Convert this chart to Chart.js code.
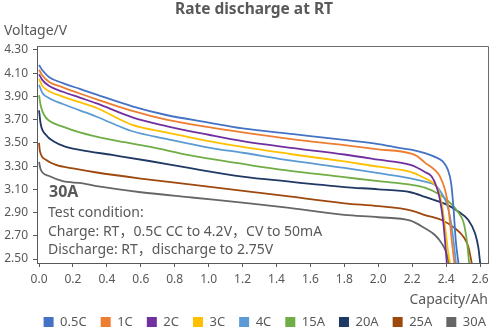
<!DOCTYPE html>
<html><head><meta charset="utf-8">
<script src="https://cdn.jsdelivr.net/npm/chart.js@4/dist/chart.umd.min.js"></script>
<style>html,body{margin:0;padding:0;background:#fff}</style>
</head><body>
<canvas id="c" width="500" height="333"></canvas>
<script>
// ---- data (capacity in Ah, voltage in V) ----
const seriesNames = ['0.5C','1C','2C','3C','4C','15A','20A','25A','30A'];
const seriesColors = ['#4472C4','#ED7D31','#7030A0','#FFC000','#5B9BD5','#70AD47','#203864','#9E480E','#666666'];

const cap05C = [0,0.02,0.06,0.14,0.24,0.34,0.55,0.75,1.0,1.2,1.5,1.8,2.0,2.13,2.2,2.28,2.34,2.38,2.41,2.43,2.443,2.457,2.474];
const v05C   = [4.17,4.125,4.065,4.015,3.965,3.915,3.815,3.74,3.675,3.625,3.575,3.525,3.49,3.455,3.44,3.41,3.375,3.34,3.27,3.15,2.95,2.66,2.45];

const cap1C = [0,0.02,0.06,0.14,0.24,0.34,0.55,0.75,1.0,1.2,1.5,1.8,2.0,2.19,2.23,2.275,2.334,2.364,2.394,2.413,2.433,2.45];
const v1C   = [4.13,4.08,4.025,3.978,3.925,3.875,3.775,3.70,3.635,3.59,3.53,3.48,3.445,3.41,3.385,3.33,3.266,3.21,3.094,2.95,2.664,2.45];

const cap2C = [0,0.02,0.06,0.14,0.24,0.34,0.55,0.75,1.0,1.2,1.5,1.8,2.0,2.19,2.275,2.315,2.344,2.364,2.384,2.398,2.405];
const v2C   = [4.09,4.04,3.99,3.94,3.89,3.84,3.72,3.645,3.57,3.515,3.455,3.40,3.355,3.31,3.25,3.21,3.12,3.01,2.81,2.58,2.45];

const cap3C = [0,0.02,0.06,0.14,0.24,0.34,0.55,0.75,1.0,1.2,1.5,1.8,2.0,2.19,2.275,2.325,2.354,2.374,2.394,2.413,2.425];
const v3C   = [4.05,3.99,3.945,3.898,3.85,3.80,3.655,3.59,3.515,3.465,3.40,3.34,3.295,3.25,3.195,3.152,3.094,2.98,2.778,2.55,2.45];

const cap4C = [0,0.02,0.06,0.14,0.24,0.34,0.55,0.75,1.0,1.2,1.5,1.8,2.0,2.19,2.275,2.334,2.374,2.403,2.423,2.443,2.459];
const v4C   = [4.00,3.93,3.885,3.835,3.78,3.725,3.60,3.535,3.46,3.415,3.345,3.285,3.24,3.195,3.166,3.137,3.066,2.98,2.864,2.664,2.45];

const cap15A = [0,0.01,0.03,0.06,0.14,0.24,0.43,0.65,0.9,1.24,1.45,1.8,2.0,2.19,2.275,2.374,2.433,2.472,2.502,2.522,2.537];
const v15A   = [3.91,3.82,3.74,3.69,3.64,3.59,3.525,3.467,3.39,3.31,3.265,3.205,3.17,3.14,3.115,3.045,2.97,2.90,2.82,2.66,2.45];

const cap20A = [0,0.01,0.04,0.09,0.15,0.24,0.43,0.65,0.9,1.2,1.45,1.8,2.0,2.19,2.275,2.394,2.472,2.531,2.571,2.59,2.602];
const v20A   = [3.78,3.66,3.57,3.51,3.47,3.44,3.396,3.344,3.28,3.21,3.17,3.12,3.10,3.075,3.035,2.975,2.91,2.836,2.72,2.60,2.45];

const cap25A = [0,0.005,0.04,0.1,0.2,0.34,0.6,0.9,1.24,1.45,1.8,2.0,2.19,2.275,2.374,2.453,2.502,2.531,2.553];
const v25A   = [3.50,3.43,3.355,3.31,3.28,3.245,3.193,3.14,3.08,3.043,2.98,2.955,2.92,2.879,2.836,2.764,2.692,2.606,2.45];

const cap30A = [0,0.01,0.06,0.14,0.25,0.35,0.6,0.9,1.24,1.45,1.8,2.0,2.19,2.275,2.334,2.374,2.403,2.418];
const v30A   = [3.335,3.27,3.215,3.17,3.153,3.125,3.075,3.03,2.98,2.945,2.88,2.86,2.83,2.765,2.707,2.635,2.549,2.45];

const xTicks = [0,0.2,0.4,0.6,0.8,1.0,1.2,1.4,1.6,1.8,2.0,2.2,2.4,2.6];
const yTicks = [2.5,2.7,2.9,3.1,3.3,3.5,3.7,3.9,4.1,4.3];

const capSets = [cap05C,cap1C,cap2C,cap3C,cap4C,cap15A,cap20A,cap25A,cap30A];
const vSets   = [v05C,v1C,v2C,v3C,v4C,v15A,v20A,v25A,v30A];

const datasets = seriesNames.map((name,i)=>({
  label:name,
  data: capSets[i].map((c,j)=>({x:c,y:vSets[i][j]})),
  borderColor: seriesColors[i],
  backgroundColor: seriesColors[i],
  borderWidth:1.8,
  pointRadius:0,
  cubicInterpolationMode:'monotone',
  fill:false
}));

const TXT = '#595959';
const FONT = "'Noto Sans', 'Noto Sans CJK SC', sans-serif";

const decor = {
  id:'decor',
  afterDraw(chart){
    const ctx = chart.ctx, a = chart.chartArea;
    ctx.save();
    ctx.strokeStyle = '#6b6b6b';
    ctx.lineWidth = 1;
    ctx.beginPath();
    ctx.moveTo(a.left, a.top+0.5); ctx.lineTo(a.right+0.5, a.top+0.5); ctx.lineTo(a.right+0.5, a.bottom);
    ctx.stroke();
    ctx.fillStyle = TXT;
    ctx.font = "bold 15.5px " + FONT;
    ctx.textAlign = 'center'; ctx.textBaseline = 'middle';
    ctx.fillText('Rate discharge at RT', 254, 10);
    ctx.font = "14px " + FONT;
    ctx.textAlign = 'left';
    ctx.fillText('Voltage/V', 4, 31);
    ctx.textAlign = 'right';
    ctx.fillText('Capacity/Ah', 488, 300);
    ctx.textAlign = 'left';
    ctx.font = "bold 16px " + FONT;
    ctx.fillText('30A', 49, 192);
    ctx.font = "14px " + FONT;
    ctx.fillText('Test condition:', 48, 213);
    ctx.fillText('Charge: RT，0.5C CC to 4.2V，CV to 50mA', 48, 232);
    ctx.fillText('Discharge: RT，discharge to 2.75V', 48, 250);
    ctx.restore();
  }
};

new Chart(document.getElementById('c'), {
  type:'line',
  data:{datasets},
  options:{
    responsive:false,
    animation:false,
    layout:{padding:{left:0,right:0,top:46,bottom:-5.5}},
    plugins:{
      title:{display:false},
      tooltip:{enabled:false},
      legend:{
        position:'bottom',
        align:'end',
        labels:{
          boxWidth:10, boxHeight:10, padding:14, color:TXT,
          font:{family:FONT, size:13},
          generateLabels:(chart)=>Chart.defaults.plugins.legend.labels.generateLabels(chart).map(l=>Object.assign(l,{lineWidth:0}))
        }
      }
    },
    scales:{
      x:{
        type:'linear', min:-0.012, max:2.647,
        afterBuildTicks:(s)=>{ s.ticks = xTicks.map(v=>({value:v})); },
        afterFit:(s)=>{ s.height = 38.5; },
        ticks:{ callback:(v)=>Number(v).toFixed(1), color:TXT, font:{family:FONT,size:12}, padding:5, maxRotation:0, autoSkip:false },
        grid:{ display:true, drawOnChartArea:false, drawTicks:true, tickLength:4, color:'#595959' },
        border:{ display:true, color:'#595959', width:1 }
      },
      y:{
        type:'linear', min:2.466, max:4.334,
        afterBuildTicks:(s)=>{ s.ticks = yTicks.map(v=>({value:v})); },
        afterFit:(s)=>{ s.width = 37; },
        ticks:{ callback:(v)=>Number(v).toFixed(2), color:TXT, font:{family:FONT,size:12}, padding:5, autoSkip:false },
        grid:{ display:true, drawOnChartArea:false, drawTicks:true, tickLength:4, color:'#595959' },
        border:{ display:true, color:'#595959', width:1 }
      },
      yRightSpace:{
        type:'linear', position:'right', display:true, min:0, max:1,
        afterFit:(s)=>{ s.width = 12; },
        ticks:{ display:false },
        grid:{ display:false },
        border:{ display:false }
      }
    }
  },
  plugins:[decor]
});
</script>
</body></html>
